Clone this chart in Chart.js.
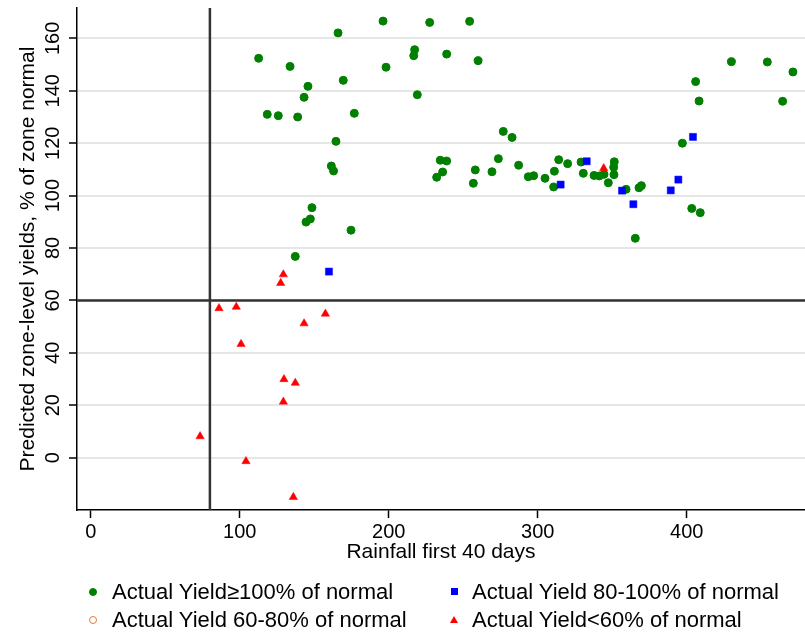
<!DOCTYPE html>
<html>
<head>
<meta charset="utf-8">
<script src="https://cdn.jsdelivr.net/npm/chart.js@4.4.1/dist/chart.umd.min.js"></script>
<style>
    html, body { margin: 0; padding: 0; background: #fff; }
    #wrap { position: relative; width: 805px; height: 636px; }
    #legend {
        position: absolute; left: 0; top: 0; width: 805px; height: 636px;
        pointer-events: none; color: #000;
        font-family: 'Liberation Sans', Arial, sans-serif; font-size: 22px;
    }
    .lg-text { position: absolute; height: 26px; line-height: 26px; white-space: nowrap; }
    .lg-mark { position: absolute; box-sizing: border-box; }
</style>
</head>
<body>
<div id="wrap">
    <canvas id="yieldChart" width="805" height="636"></canvas>
    <div id="legend"></div>
</div>
<script>
// ===========================
// Data (rainfall first 40 days, predicted yield % of zone normal)
// ===========================

const X_TICKS = [0, 100, 200, 300, 400];
const Y_TICKS = [0, 20, 40, 60, 80, 100, 120, 140, 160];

const REF_RAIN = 80;   // vertical reference line
const REF_YIELD = 60;  // horizontal reference line

// Actual yield >= 100% of normal
const HIGH_YIELD = [
    [112.7, 152.4], [118.5, 131.0], [166.0, 162.1], [196.2, 166.6], [227.5, 166.1],
    [254.3, 166.5], [217.4, 155.7], [216.8, 153.4], [238.9, 154.0], [260.0, 151.5],
    [133.8, 149.3], [198.2, 149.0], [169.5, 144.0], [145.8, 141.7], [143.2, 137.5],
    [219.2, 138.5], [125.9, 130.5], [138.9, 130.0], [176.9, 131.4], [164.6, 120.7],
    [276.9, 124.5], [282.8, 122.2], [273.6, 114.1], [234.6, 113.5], [238.9, 113.2],
    [236.2, 109.0], [232.2, 107.0], [258.1, 109.8], [256.8, 104.7], [269.3, 109.1],
    [287.2, 111.6], [293.7, 107.2], [297.3, 107.6], [161.5, 111.3], [163.0, 109.4],
    [148.5, 95.4], [144.5, 89.9], [147.4, 91.1], [174.7, 86.8], [137.3, 76.8],
    [304.9, 106.6], [311.2, 109.3], [310.7, 103.3], [314.1, 113.7], [320.1, 112.2],
    [329.1, 112.8], [330.6, 108.5], [337.8, 107.7], [341.3, 107.5], [344.5, 108.1],
    [351.4, 112.9], [351.0, 110.8], [351.2, 108.0], [347.4, 104.9], [359.3, 102.4],
    [368.0, 103.0], [369.6, 103.8], [365.5, 83.7], [397.1, 120.0], [403.4, 95.1],
    [409.1, 93.5], [406.0, 143.5], [408.3, 136.1], [430.0, 151.1], [454.1, 151.0],
    [471.3, 147.2], [464.4, 136.0]
];

// Actual yield 80-100% of normal
const MID_YIELD = [
    [159.9, 71.0], [315.4, 104.2], [332.9, 113.1], [356.6, 101.9],
    [364.2, 96.7], [389.3, 102.0], [394.4, 106.1], [404.2, 122.4]
];

// Actual yield 60-80% of normal (no observations shown)
const LOW_YIELD = [];

// Actual yield < 60% of normal
const POOR_YIELD = [
    [86.1, 57.0], [97.7, 57.5], [100.9, 43.3], [73.4, 8.1], [104.2, -1.4],
    [129.3, 69.9], [127.5, 66.6], [157.5, 54.9], [143.2, 51.2], [129.7, 29.9],
    [137.3, 28.5], [129.3, 21.3], [136.0, -15.1], [344.3, 110.4]
];

const SERIES_LABELS = [
    'Actual Yield\u2265100% of normal',
    'Actual Yield 80-100% of normal',
    'Actual Yield 60-80% of normal',
    'Actual Yield<60% of normal'
];

// ===========================
// Chart
// ===========================

const FONT = "'Liberation Sans', Arial, sans-serif";

function toPoints(pairs) {
    return pairs.map(p => ({ x: p[0], y: p[1] }));
}

// keep the plot area exactly where the reference has it
function noAutoPadding(scale) {
    scale.paddingTop = 0;
    scale.paddingBottom = 0;
    scale.paddingLeft = 0;
    scale.paddingRight = 0;
}

const refLines = {
    id: 'refLines',
    beforeDatasetsDraw(chart) {
        const { ctx, chartArea, scales } = chart;
        const px = scales.x.getPixelForValue(REF_RAIN);
        const py = scales.y.getPixelForValue(REF_YIELD);
        ctx.save();
        ctx.strokeStyle = '#333333';
        ctx.lineWidth = 2.5;
        ctx.beginPath();
        ctx.moveTo(px, chartArea.top);
        ctx.lineTo(px, chartArea.bottom);
        ctx.moveTo(chartArea.left, py);
        ctx.lineTo(chartArea.right, py);
        ctx.stroke();
        ctx.restore();
    }
};

const datasets = [
    {
        label: SERIES_LABELS[0], data: toPoints(HIGH_YIELD), order: 3,
        pointStyle: 'circle', pointRadius: 4, borderWidth: 1,
        backgroundColor: '#007f00', borderColor: '#007f00'
    },
    {
        label: SERIES_LABELS[1], data: toPoints(MID_YIELD), order: 1,
        pointStyle: 'rect', pointRadius: 5, borderWidth: 0.5,
        backgroundColor: '#0000ff', borderColor: '#0000ff'
    },
    {
        label: SERIES_LABELS[2], data: toPoints(LOW_YIELD), order: 2,
        pointStyle: 'circle', pointRadius: 4, borderWidth: 1.5,
        backgroundColor: 'rgba(0,0,0,0)', borderColor: '#e8772e'
    },
    {
        label: SERIES_LABELS[3], data: toPoints(POOR_YIELD), order: 0,
        pointStyle: 'triangle', pointRadius: 4.8, borderWidth: 0.5,
        backgroundColor: '#ff0000', borderColor: '#ff0000'
    }
];

const chart = new Chart(document.getElementById('yieldChart'), {
    type: 'scatter',
    data: { datasets: datasets },
    options: {
        responsive: false,
        animation: false,
        layout: {
            autoPadding: false,
            padding: { top: 8, right: 0, bottom: 66, left: 0 }
        },
        plugins: {
            legend: { display: false },
            tooltip: { enabled: false }
        },
        scales: {
            x: {
                type: 'linear',
                min: -9.2,
                max: 479.4,
                afterBuildTicks: scale => { scale.ticks = X_TICKS.map(v => ({ value: v })); },
                afterFit: scale => { scale.height = 60; noAutoPadding(scale); },
                grid: {
                    drawOnChartArea: false,
                    tickLength: 8,
                    tickColor: '#000',
                    tickWidth: 1.5
                },
                border: { color: '#000', width: 1.5 },
                ticks: {
                    autoSkip: false,
                    maxRotation: 0,
                    padding: 2,
                    color: '#000',
                    font: { family: FONT, size: 20 }
                },
                title: {
                    display: true,
                    text: 'Rainfall first 40 days',
                    color: '#000',
                    font: { family: FONT, size: 21 },
                    padding: { top: 0, bottom: 5 }
                }
            },
            y: {
                type: 'linear',
                min: -20,
                max: 171.6,
                afterBuildTicks: scale => { scale.ticks = Y_TICKS.map(v => ({ value: v })); },
                afterFit: scale => { scale.width = 77; noAutoPadding(scale); },
                grid: {
                    color: '#e6e6e6',
                    lineWidth: 2,
                    tickLength: 8,
                    tickColor: '#000',
                    tickWidth: 1.5
                },
                border: { color: '#000', width: 1.5 },
                ticks: {
                    autoSkip: false,
                    minRotation: 90,
                    maxRotation: 90,
                    crossAlign: 'center',
                    padding: -1,
                    color: '#000',
                    font: { family: FONT, size: 20 }
                },
                title: {
                    display: true,
                    text: 'Predicted zone-level yields, % of zone normal',
                    color: '#000',
                    font: { family: FONT, size: 21 },
                    padding: { top: 16, bottom: 0 }
                }
            }
        }
    },
    plugins: [refLines]
});

// ===========================
// Legend (two columns, built from datasets)
// ===========================

function buildLegend() {
    const box = document.getElementById('legend');
    const markX = [93, 454];
    const textX = [112, 472];
    const rowY = [591.5, 620];

    chart.data.datasets.forEach((ds, i) => {
        const col = i % 2;
        const row = Math.floor(i / 2);
        const cx = markX[col];
        const cy = rowY[row];

        const mark = document.createElement('div');
        mark.className = 'lg-mark';
        if (ds.pointStyle === 'triangle') {
            mark.style.left = (cx - 4) + 'px';
            mark.style.top = (cy - 4.5) + 'px';
            mark.style.width = '0';
            mark.style.height = '0';
            mark.style.borderLeft = '4px solid transparent';
            mark.style.borderRight = '4px solid transparent';
            mark.style.borderBottom = '7px solid ' + ds.backgroundColor;
        } else if (ds.pointStyle === 'rect') {
            mark.style.left = (cx - 3.5) + 'px';
            mark.style.top = (cy - 3.5) + 'px';
            mark.style.width = '7px';
            mark.style.height = '7px';
            mark.style.background = ds.backgroundColor;
        } else {
            mark.style.left = (cx - 4) + 'px';
            mark.style.top = (cy - 4) + 'px';
            mark.style.width = '8px';
            mark.style.height = '8px';
            mark.style.borderRadius = '50%';
            mark.style.background = ds.backgroundColor;
            mark.style.border = '1.5px solid ' + ds.borderColor;
        }
        box.appendChild(mark);

        const txt = document.createElement('div');
        txt.className = 'lg-text';
        txt.style.left = textX[col] + 'px';
        txt.style.top = (cy - 13) + 'px';
        txt.textContent = ds.label;
        box.appendChild(txt);
    });
}

buildLegend();
</script>
</body>
</html>
